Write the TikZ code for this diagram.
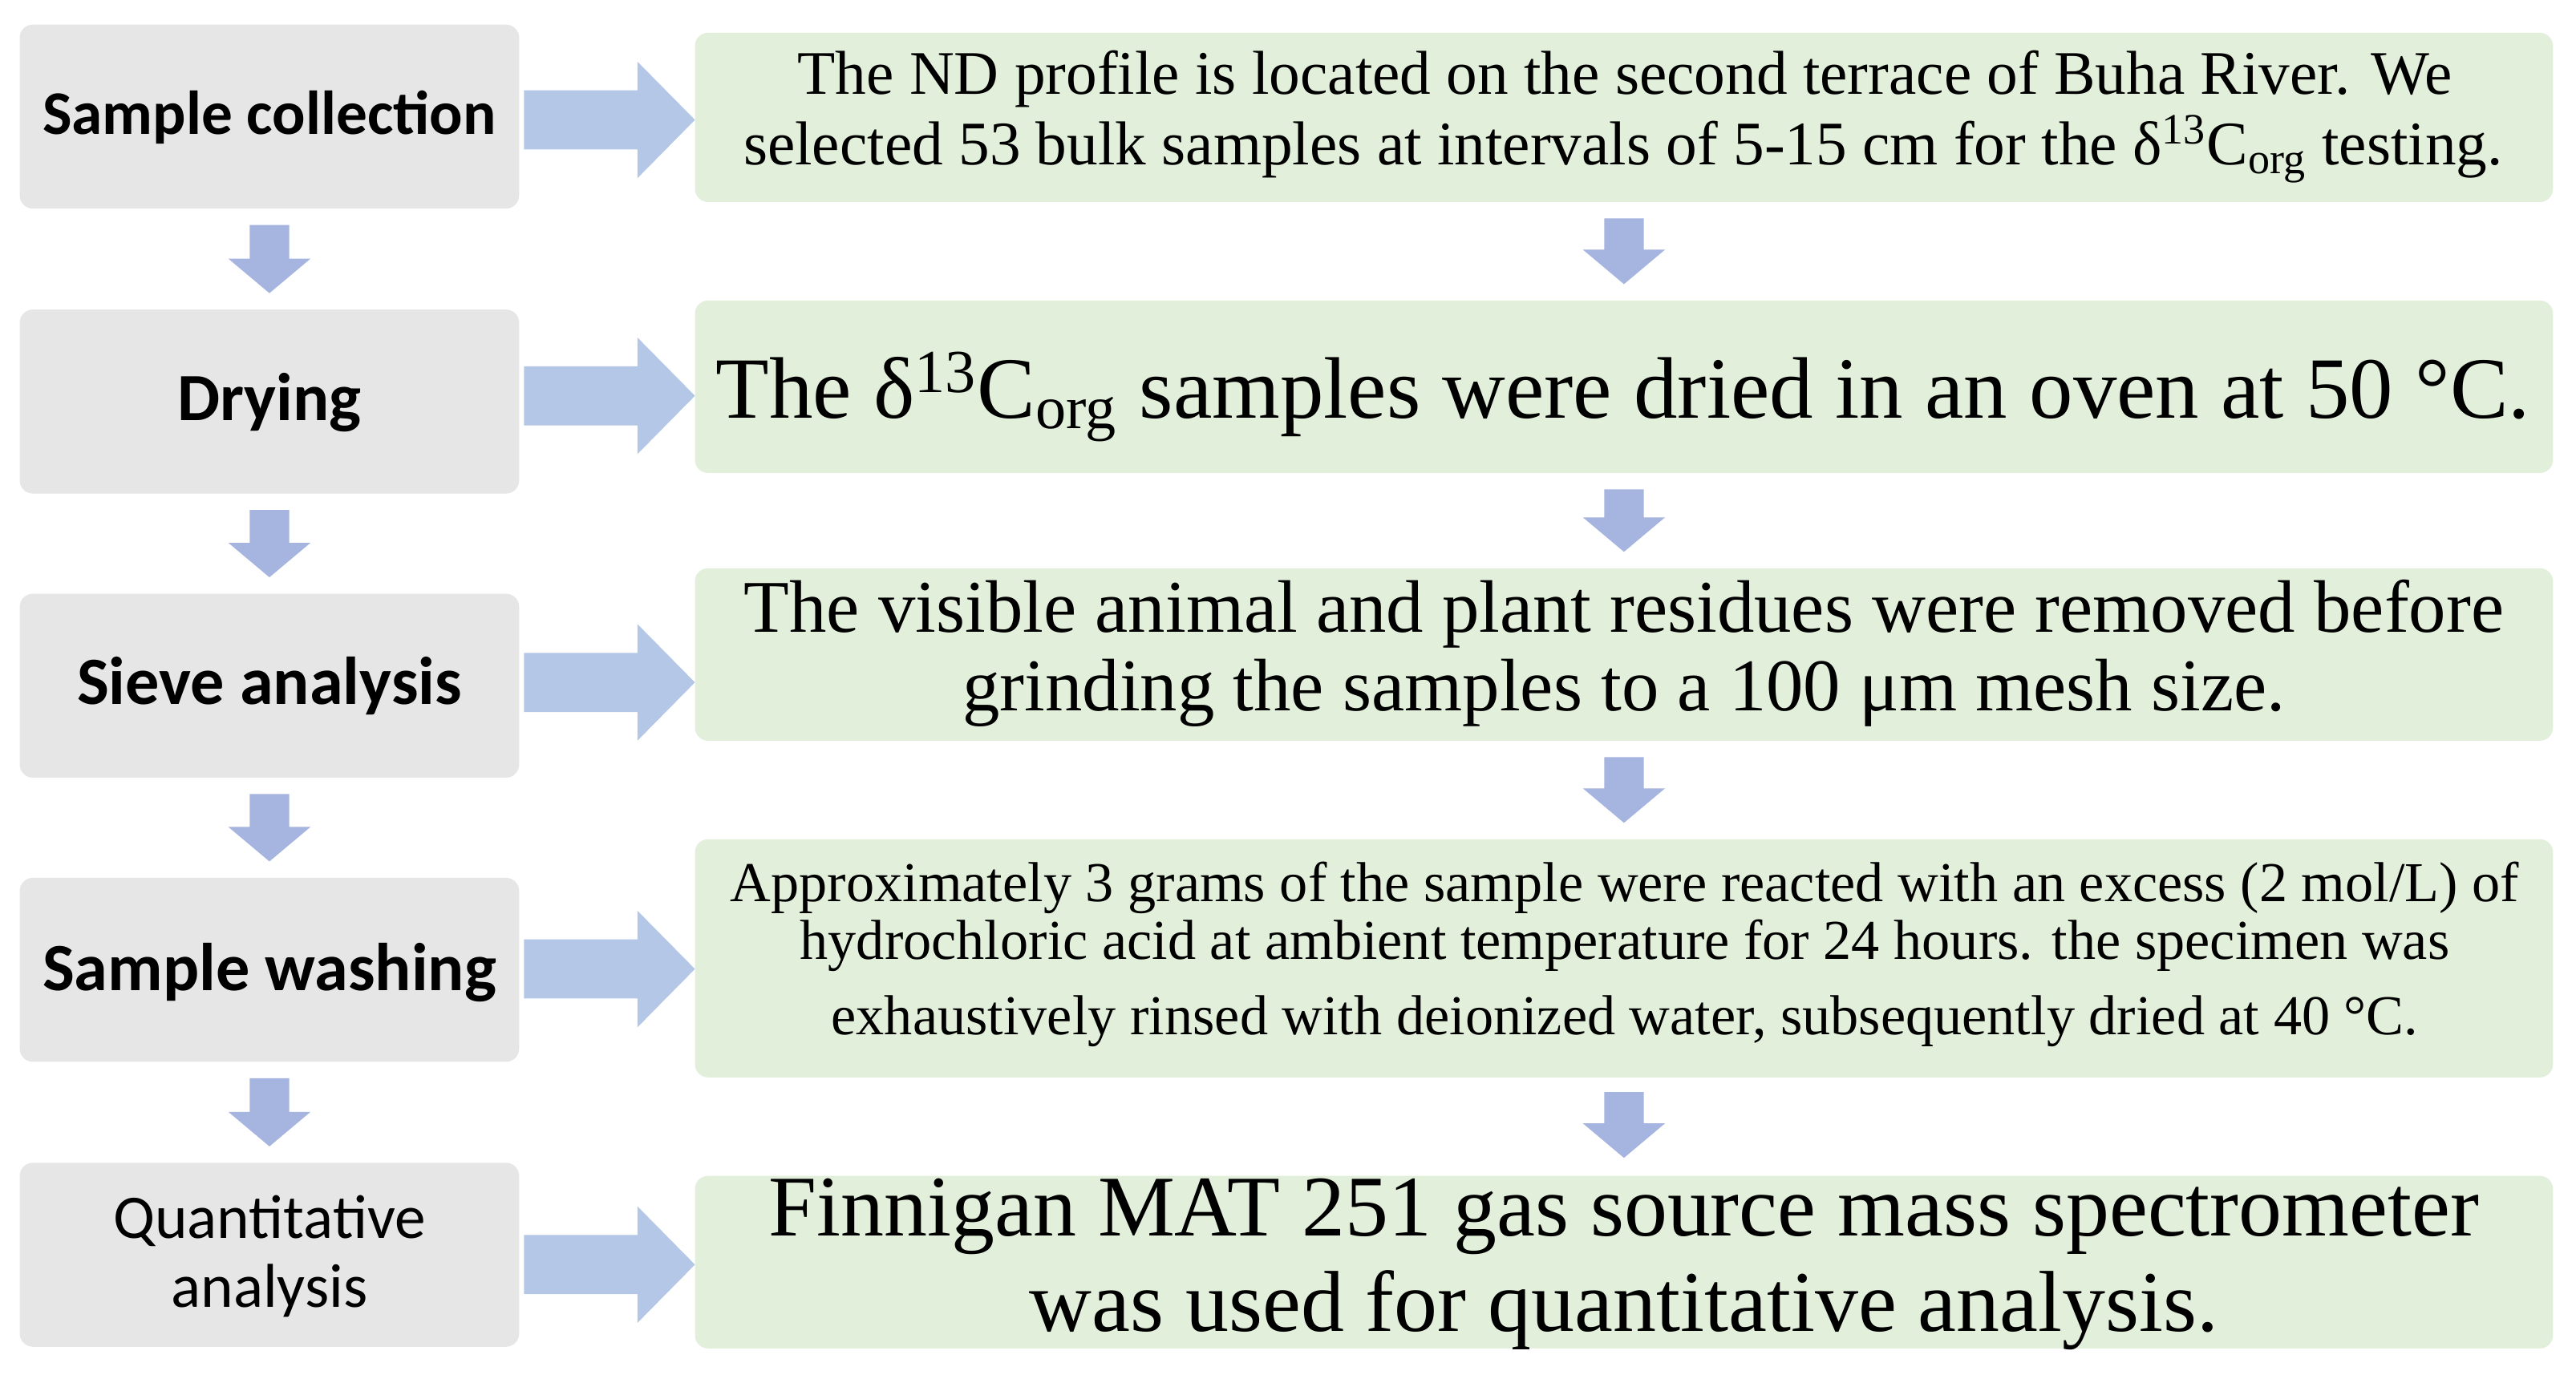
\documentclass[tikz,border=0pt]{standalone}
\usepackage{fontspec}
\setmainfont{Liberation Serif}
\newfontfamily\labfont{Carlito}
\usetikzlibrary{calc}
\definecolor{lgray}{HTML}{E7E6E6}
\definecolor{lgreen}{HTML}{E2EFDA}
\definecolor{harrc}{HTML}{B4C7E7}
\definecolor{varrc}{HTML}{A5B5DF}
\newcommand\pxu{0.020485cm}
\newcommand\hblock[2]{%
  \fill[harrc] ($(#1)+(0,-18)$) -- ($(#2)+(-35,-18)$) -- ($(#2)+(-35,-35.5)$) -- (#2)
     -- ($(#2)+(-35,35.5)$) -- ($(#2)+(-35,18)$) -- ($(#1)+(0,18)$) -- cycle;}
\newcommand\vblock[2]{%
  \fill[varrc] ($(#1)+(-12,0)$) -- ($(#2)+(-12,-21)$) -- ($(#2)+(-25,-21)$) -- (#2)
     -- ($(#2)+(25,-21)$) -- ($(#2)+(12,-21)$) -- ($(#1)+(12,0)$) -- cycle;}
\tikzset{
  lbox/.style={draw=none, fill=lgray, rounded corners=8*\pxu, inner sep=0pt, outer sep=0pt,
     minimum width=304*\pxu, minimum height=112*\pxu},
  rbox/.style={draw=none, fill=lgreen, rounded corners=8*\pxu, inner sep=0pt, outer sep=0pt,
     minimum width=1131*\pxu},
  ltxt/.style={anchor=base, inner sep=0pt, font=\labfont\fontsize{24pt}{28pt}\selectfont\bfseries},
  rtxt/.style={anchor=base, inner sep=0pt},
}
\begin{document}
\begin{tikzpicture}[x=\pxu, y=-\pxu]
\fill[white] (0,0) rectangle (1568,842);
\useasboundingbox (0,0) rectangle (1568,842);

% left boxes
\node[lbox] (L1) at (164,71) {};
\node[lbox] (L2) at (164,244.5) {};
\node[lbox] (L3) at (164,417.5) {};
\node[lbox] (L4) at (164,590.5) {};
\node[lbox] (L5) at (164,764) {};

% right boxes
\node[rbox, minimum height=103*\pxu] (R1) at (988.5,71.5) {};
\node[rbox, minimum height=105*\pxu] (R2) at (988.5,235.5) {};
\node[rbox, minimum height=105*\pxu] (R3) at (988.5,398.5) {};
\node[rbox, minimum height=145*\pxu] (R4) at (988.5,583.5) {};
\node[rbox, minimum height=105*\pxu] (R5) at (988.5,768.5) {};

% left labels
\node[ltxt, font=\labfont\fontsize{22pt}{26pt}\selectfont\bfseries] (t1) at (164,82) {Sample collection};
\node[ltxt] (t2) at (164,256) {Drying};
\node[ltxt] (t3) at (164,429) {Sieve analysis};
\node[ltxt] (t4) at (164,603) {Sample washing};
\node[ltxt, font=\labfont\fontsize{22pt}{26pt}\selectfont] (t5a) at (164,754) {Quantitative};
\node[ltxt, font=\labfont\fontsize{22pt}{26pt}\selectfont] (t5b) at (164,796) {analysis};

% right texts
\node[rtxt, font=\fontsize{22pt}{25pt}\selectfont] (s1a) at (989,57.5) {The ND profile is located on the second terrace of Buha River. We};
\node[rtxt, font=\fontsize{22pt}{25pt}\selectfont] (s1b) at (988,100.5) {selected 53 bulk samples at intervals of 5-15 cm for the δ\textsuperscript{13}C\textsubscript{org} testing.};
\node[rtxt, font=\fontsize{31pt}{35pt}\selectfont] (s2) at (988,254.5) {The δ\textsuperscript{13}C\textsubscript{org} samples were dried in an oven at 50 °C.};
\node[rtxt, font=\fontsize{26.4pt}{28pt}\selectfont] (s3a) at (988.5,385) {The visible animal and plant residues were removed before};
\node[rtxt, font=\fontsize{26.4pt}{28pt}\selectfont] (s3b) at (988.5,433) {grinding the samples to a 100 μm mesh size.};
\node[rtxt, font=\fontsize{20pt}{22pt}\selectfont] (s4a) at (989,549) {Approximately 3 grams of the sample were reacted with an excess (2 mol/L) of};
\node[rtxt, font=\fontsize{20pt}{22pt}\selectfont] (s4b) at (989,584) {hydrochloric acid at ambient temperature for 24 hours. the specimen was};
\node[rtxt, font=\fontsize{20pt}{22pt}\selectfont] (s4c) at (989,630) {exhaustively rinsed with deionized water, subsequently dried at 40 °C.};
\node[rtxt, font=\fontsize{30.7pt}{34pt}\selectfont] (s5a) at (988.5,752.5) {Finnigan MAT 251 gas source mass spectrometer};
\node[rtxt, font=\fontsize{30.7pt}{34pt}\selectfont] (s5b) at (988.5,810.5) {was used for quantitative analysis.};

% horizontal block arrows
\coordinate (h1s) at ($(L1.east)+(3,2)$);   \coordinate (h1t) at (h1s -| R1.west);
\coordinate (h2s) at ($(L2.east)+(3,-3.5)$); \coordinate (h2t) at (h2s -| R2.west);
\coordinate (h3s) at ($(L3.east)+(3,-2)$);  \coordinate (h3t) at (h3s -| R3.west);
\coordinate (h4s) at ($(L4.east)+(3,-0.5)$); \coordinate (h4t) at (h4s -| R4.west);
\coordinate (h5s) at ($(L5.east)+(3,6)$);   \coordinate (h5t) at (h5s -| R5.west);
\hblock{h1s}{h1t}
\hblock{h2s}{h2t}
\hblock{h3s}{h3t}
\hblock{h4s}{h4t}
\hblock{h5s}{h5t}

% vertical block arrows, left column
\coordinate (v1s) at ($(L1.south)+(0,10)$); \coordinate (v1t) at ($(L2.north)+(0,-10)$);
\coordinate (v2s) at ($(L2.south)+(0,10)$); \coordinate (v2t) at ($(L3.north)+(0,-10)$);
\coordinate (v3s) at ($(L3.south)+(0,10)$); \coordinate (v3t) at ($(L4.north)+(0,-10)$);
\coordinate (v4s) at ($(L4.south)+(0,10)$); \coordinate (v4t) at ($(L5.north)+(0,-10)$);
\vblock{v1s}{v1t}
\vblock{v2s}{v2t}
\vblock{v3s}{v3t}
\vblock{v4s}{v4t}

% vertical block arrows, right column
\coordinate (w1s) at ($(R1.south)+(0,10)$); \coordinate (w1t) at ($(R2.north)+(0,-10)$);
\coordinate (w2s) at ($(R2.south)+(0,10)$); \coordinate (w2t) at ($(R3.north)+(0,-10)$);
\coordinate (w3s) at ($(R3.south)+(0,10)$); \coordinate (w3t) at ($(R4.north)+(0,-10)$);
\coordinate (w4s) at ($(R4.south)+(0,9)$);  \coordinate (w4t) at ($(R5.north)+(0,-11)$);
\vblock{w1s}{w1t}
\vblock{w2s}{w2t}
\vblock{w3s}{w3t}
\vblock{w4s}{w4t}
\end{tikzpicture}
\end{document}
